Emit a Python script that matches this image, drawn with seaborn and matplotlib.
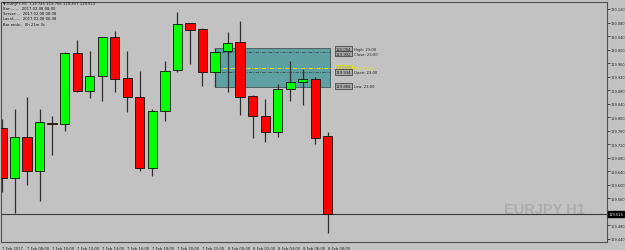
import matplotlib
matplotlib.use("Agg")
import matplotlib.pyplot as plt
import matplotlib.transforms as mtransforms
from matplotlib.patches import Rectangle
import seaborn as sns
import pandas as pd
import numpy as np

# ---------------- data ----------------
opens = [119.768, 119.619, 119.740, 119.642, 119.782, 119.779, 119.990, 119.877, 119.921,
         120.036, 119.916, 119.859, 119.650, 119.817, 119.940, 120.079, 120.061, 119.934,
         119.997, 120.021, 119.862, 119.804, 119.757, 119.883, 119.903, 119.913, 119.745]
highs = [119.795, 119.824, 119.859, 119.824, 119.803, 119.992, 120.028, 119.997, 120.037,
         120.056, 119.995, 119.936, 119.824, 119.965, 120.111, 120.080, 120.064, 120.004,
         120.051, 120.085, 119.866, 119.854, 119.898, 119.967, 119.942, 119.918, 119.756]
lows = [119.579, 119.516, 119.600, 119.552, 119.688, 119.760, 119.874, 119.856, 119.849,
        119.874, 119.816, 119.642, 119.627, 119.790, 119.933, 119.957, 119.893, 119.888,
        119.874, 119.806, 119.737, 119.726, 119.740, 119.849, 119.836, 119.721, 119.457]
closes = [119.620, 119.740, 119.640, 119.785, 119.779, 119.990, 119.877, 119.923, 120.036,
          119.913, 119.859, 119.650, 119.817, 119.937, 120.077, 120.057, 119.933, 119.992,
          120.019, 119.860, 119.804, 119.755, 119.883, 119.903, 119.913, 119.737, 119.513]

xtick_labels = ["7 Feb 2017", "7 Feb 08:00", "7 Feb 10:00", "7 Feb 12:00", "7 Feb 14:00",
                "7 Feb 16:00", "7 Feb 18:00", "7 Feb 20:00", "7 Feb 22:00", "8 Feb 00:00",
                "8 Feb 02:00", "8 Feb 04:00", "8 Feb 06:00", "8 Feb 08:00"]
ytick_values = [120.120, 120.080, 120.040, 120.000, 119.960, 119.920, 119.880, 119.840,
                119.800, 119.760, 119.720, 119.680, 119.640, 119.600, 119.560, 119.520,
                119.480, 119.440]

# reference bar (23:00) levels
ref_bar = 17
ref_names = ["High: 23:00", "Close: 23:00", "Mid: 23:00", "Open: 23:00", "Low: 23:00"]

info_lines = ["\u25bc EURJPY,H1  119.745 119.756 119.457 119.513",
              "Bar:.......  2017.02.08 08:00",
              "Server:...  2017.02.08 08:38",
              "Local:.....  2017.02.08 06:38",
              "Bar ends:.  0h 21m 3s"]
current_price = 119.513

# ---------------- style ----------------
BG = "#c2c2c2"
BULL = "#00ff00"
BEAR = "#ff0000"
sns.set_theme(style="white")
plt.rcParams["font.family"] = ["DejaVu Sans"]
FS = 2.7
FSY = 2.55

W, H = 625, 251
fig = plt.figure(figsize=(6.25, 2.51), dpi=100, facecolor=BG)
L, R, T, B = 1.5, 607.0, 3.0, 243.0
ax = fig.add_axes([L / W, 1 - B / H, (R - L) / W, (B - T) / H])
ax.set_facecolor(BG)

df = pd.DataFrame({"open": opens, "high": highs, "low": lows, "close": closes})
df["idx"] = np.arange(len(df))
df["bull"] = df["close"] >= df["open"]
df["bottom"] = df[["open", "close"]].min(axis=1)
df["height"] = (df["close"] - df["open"]).abs().clip(lower=0.0025)

# reference box of bar 23:00
rb = df.iloc[ref_bar]
box_right = 26.2
ax.add_patch(Rectangle((ref_bar, rb["low"]), box_right - ref_bar, rb["high"] - rb["low"],
                       facecolor="#5fa0a3", edgecolor="#4a6466", linewidth=0.7, zorder=1))
mid = (rb["high"] + rb["low"]) / 2
ax.hlines([rb["close"], rb["open"]], ref_bar, box_right, colors="#2f4f50",
          linestyles=(0, (4, 1.5, 1, 1.5)), linewidth=0.6, zorder=1.2)
ax.hlines([mid], ref_bar, box_right, colors="#e8e800",
          linestyles=(0, (4, 1.5, 1, 1.5)), linewidth=0.7, zorder=1.2)

# candles
ax.vlines(df["idx"], df["low"], df["high"], colors="#303030", linewidth=0.9, zorder=2)
ax.bar(df["idx"], df["height"], bottom=df["bottom"], width=0.74,
       color=np.where(df["bull"], BULL, BEAR), edgecolor="#111111", linewidth=0.6, zorder=3)

# labels for the reference levels
levels = [rb["high"], rb["close"], mid, rb["open"], rb["low"]]
offsets = [-0.001, -0.004, 0.0, -0.001, 0.004]
for name, lv, off in zip(ref_names, levels, offsets):
    yellow = name.startswith("Mid")
    ax.text(26.62, lv + off, f"{lv:.3f}", fontsize=FS, va="center", ha="left",
            color="#e8e800" if yellow else "#202020", zorder=5,
            bbox=dict(boxstyle="square,pad=0.2", fc="#a8a8a8" if not yellow else "#b8b890",
                      ec="#e8e800" if yellow else "#303030", lw=0.5))
    ax.text(28.1, lv + off, name, fontsize=FS, va="center", ha="left",
            color="#e8e800" if yellow else "#202020", zorder=5)

# current price line
ax.axhline(current_price, color="#3a3a3a", linewidth=0.8, zorder=1.5)
ax.text(1.003, current_price, f"{current_price:.3f}",
        transform=mtransforms.blended_transform_factory(ax.transAxes, ax.transData),
        fontsize=FSY, color="white", va="center", ha="left", zorder=6, clip_on=False,
        bbox=dict(boxstyle="square,pad=0.25", fc="black", ec="black"))

# watermark
ax.text(0.897, 0.1375, "EURJPY H1", transform=ax.transAxes, fontsize=10.5, fontweight="bold",
        family=["Liberation Sans", "DejaVu Sans"],
        color="#acacac", ha="center", va="center", zorder=0.5)

# axes
ax.set_xlim(-0.04, 48.28)
ax.set_ylim(119.4307, 120.1407)
ax.set_xticks(np.arange(0, 27, 2))
ax.set_xticklabels(xtick_labels, ha="left", fontsize=FS, color="#202020")
ax.yaxis.tick_right()
ax.set_yticks(ytick_values)
ax.set_yticklabels([f"{v:.3f}" for v in ytick_values], fontsize=FSY, color="#202020")
ax.tick_params(axis="both", direction="out", length=1.8, width=0.6, color="#303030", pad=0.5)
ax.tick_params(axis="x", pad=0.8)
for s in ax.spines.values():
    s.set_color("#505050")
    s.set_linewidth(0.8)
ax.set_xlabel("")
ax.set_ylabel("")

for i, line in enumerate(info_lines):
    fig.text(3 / W, 1 - (4.5 + 5 * i) / H, line, fontsize=FS, color="#101010",
             va="center", ha="left")

fig.savefig("out.png", dpi=100, facecolor=BG)
